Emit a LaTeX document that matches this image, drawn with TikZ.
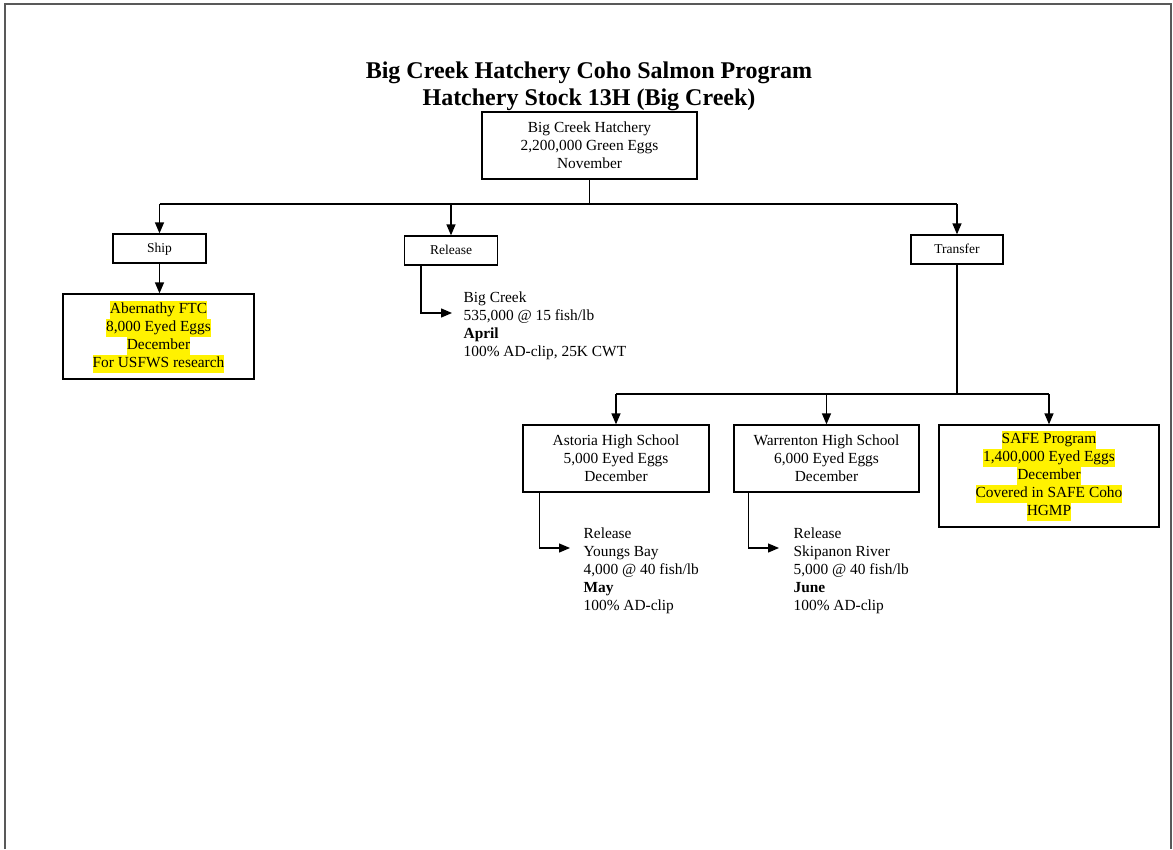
\documentclass[tikz,border=0pt]{standalone}
\usepackage{fontspec}
\setmainfont{Liberation Serif}
\usetikzlibrary{positioning, arrows.meta}
\newcommand{\hl}[1]{{\setlength{\fboxsep}{0pt}\colorbox{yellow}{\strut #1}}}

\begin{document}
\begin{tikzpicture}[x=1pt, y=-1pt, line width=1.3pt, >={Triangle[length=11pt,width=9pt]},
  box/.style={draw, align=center, inner sep=0pt, font=\fontsize{15.4}{18}\selectfont},
  tag/.style={draw, inner sep=0pt, minimum width=93pt, minimum height=29pt, text depth=1pt, font=\fontsize{13.5}{16}\selectfont},
  info/.style={anchor=north west, align=left, inner sep=0pt, font=\fontsize{15.4}{18}\selectfont}]
\useasboundingbox (0,0) rectangle (1173,849);
\draw[line width=1.3pt, black!65] (5,849) -- (5,4) -- (1171,4) -- (1171,849);

\node[align=center, font=\fontsize{24}{27}\selectfont\bfseries] (title) at (589,86) {Big Creek Hatchery Coho Salmon Program\\Hatchery Stock 13H (Big Creek)};

\node[box, minimum width=215pt, minimum height=67pt] (hatch) at (589.5,145.5) {Big Creek Hatchery\\2,200,000 Green Eggs\\November};
\coordinate (split1) at (589.5,204);

\node[tag] (ship) at (159.5,248.5) {Ship};
\node[tag] (release) at (451,250.5) {Release};
\node[tag, minimum width=92pt] (transfer) at (957,249.5) {Transfer};

\node[box, minimum width=191pt, minimum height=85pt] (abernathy) at (158.5,336.5) {\hl{Abernathy FTC}\\\hl{8,000 Eyed Eggs}\\\hl{December}\\\hl{For USFWS research}};
\node[info] (bigcreek) at (463,291) {Big Creek\\535,000 @ 15 fish/lb\\\textbf{April}\\100\% AD-clip, 25K CWT};

\coordinate (split2) at (957,394);
\node[box, minimum width=186pt, minimum height=67pt] (astoria) at (616,458.5) {Astoria High School\\5,000 Eyed Eggs\\December};
\node[box, minimum width=185pt, minimum height=67pt] (warrenton) at (826.5,458.5) {Warrenton High School\\6,000 Eyed Eggs\\December};
\node[box, minimum width=220pt, minimum height=102pt] (safe) at (1049,476) {\hl{SAFE Program}\\\hl{1,400,000 Eyed Eggs}\\\hl{December}\\\hl{Covered in SAFE Coho}\\\hl{HGMP}};

\node[info] (youngs) at (583,527) {Release\\Youngs Bay\\4,000 @ 40 fish/lb\\\textbf{May}\\100\% AD-clip};
\node[info] (skipanon) at (793,527) {Release\\Skipanon River\\5,000 @ 40 fish/lb\\\textbf{June}\\100\% AD-clip};

\draw (hatch) -- (split1);
\draw (ship.north |- split1) -- (transfer.north |- split1);
\draw[->] (ship.north |- split1) -- (ship);
\draw[->] (release.north |- split1) -- (release);
\draw[->] (transfer.north |- split1) -- (transfer);
\draw[->] (ship) -- (ship |- abernathy.north);
\draw[->] ([xshift=-30pt]release.south) |- ([shift={(-11,22)}]bigcreek.north west);

\draw (transfer) -- (split2);
\draw (astoria.north |- split2) -- (safe.north |- split2);
\draw[->] (astoria.north |- split2) -- (astoria);
\draw[->] (warrenton.north |- split2) -- (warrenton);
\draw[->] (safe.north |- split2) -- (safe);
\draw[->] ([xshift=17pt]astoria.south west) |- ([shift={(-13,21)}]youngs.north west);
\draw[->] ([xshift=15pt]warrenton.south west) |- ([shift={(-14,21)}]skipanon.north west);

\end{tikzpicture}
\end{document}
